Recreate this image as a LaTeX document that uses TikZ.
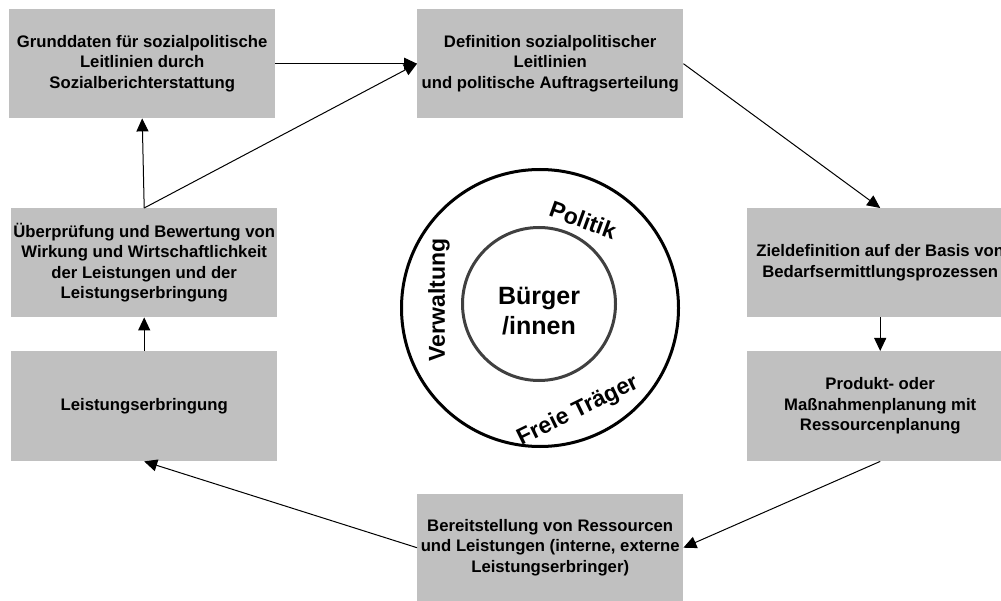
\documentclass[tikz,border=0pt]{standalone}
\usepackage{fontspec}
\setmainfont{Liberation Sans}
\usetikzlibrary{arrows.meta}
\definecolor{boxgray}{HTML}{C0C0C0}
\definecolor{innergray}{HTML}{404040}
\begin{document}
\begin{tikzpicture}[x=1pt,y=-1pt,
  box/.style={fill=boxgray, minimum width=266pt, minimum height=109pt, align=center,
    font=\fontsize{16.7}{20.5}\selectfont\bfseries, inner sep=0pt, anchor=north west},
  conn/.style={-{Triangle[length=13pt,width=12pt]}, line width=1pt},
  lbl/.style={font=\fontsize{23}{27}\selectfont\bfseries, inner sep=0pt}
]
\useasboundingbox (0,0) rectangle (1001,601);
\node[box] (b1) at (9,9) {Grunddaten für sozialpolitische\\Leitlinien durch\\Sozialberichterstattung};
\node[box] (b2) at (417,9) {Definition sozialpolitischer\\Leitlinien\\und politische Auftragserteilung};
\node[box] (b3) at (747,208) {Zieldefinition auf der Basis von\\Bedarfsermittlungsprozessen};
\node[box, minimum height=110pt] (b4) at (747,351) {Produkt- oder\\Maßnahmenplanung mit\\Ressourcenplanung};
\node[box, minimum height=107pt] (b5) at (417,494) {Bereitstellung von Ressourcen\\und Leistungen (interne, externe\\Leistungserbringer)};
\node[box] (b6) at (11,208) {Überprüfung und Bewertung von\\Wirkung und Wirtschaftlichkeit\\der Leistungen und der\\Leistungserbringung};
\node[box, minimum height=110pt] (b7) at (11,351) {Leistungserbringung};

\draw[conn] (b1.east) -- (b2.west);
\draw[conn] (b6.north) -- (b1.south);
\draw[conn] (b6.north) -- (b2.west);
\draw[conn] (b2.east) -- (b3.north);
\draw[conn] (b3.south) -- (b4.north);
\draw[conn] (b4.south) -- (b5.east);
\draw[conn] (b5.west) -- (b7.south);
\draw[conn] (b7.north) -- (b6.south);

\node[circle, draw, line width=3pt, minimum size=277pt, inner sep=0pt] (outer) at (540,308) {};
\node[circle, draw=innergray, line width=3pt, minimum size=153pt, inner sep=0pt] (inner) at (539,304) {};
\node[align=center, font=\fontsize{25}{30}\selectfont\bfseries, inner sep=0pt] (buerger) at (539,311) {Bürger\\/innen};
\node[lbl, rotate=90] (verw) at (439,300) {Verwaltung};
\node[lbl, rotate=-20] (pol) at (583,220) {Politik};
\node[lbl, rotate=26] (frei) at (578,411) {Freie Träger};
\end{tikzpicture}
\end{document}
